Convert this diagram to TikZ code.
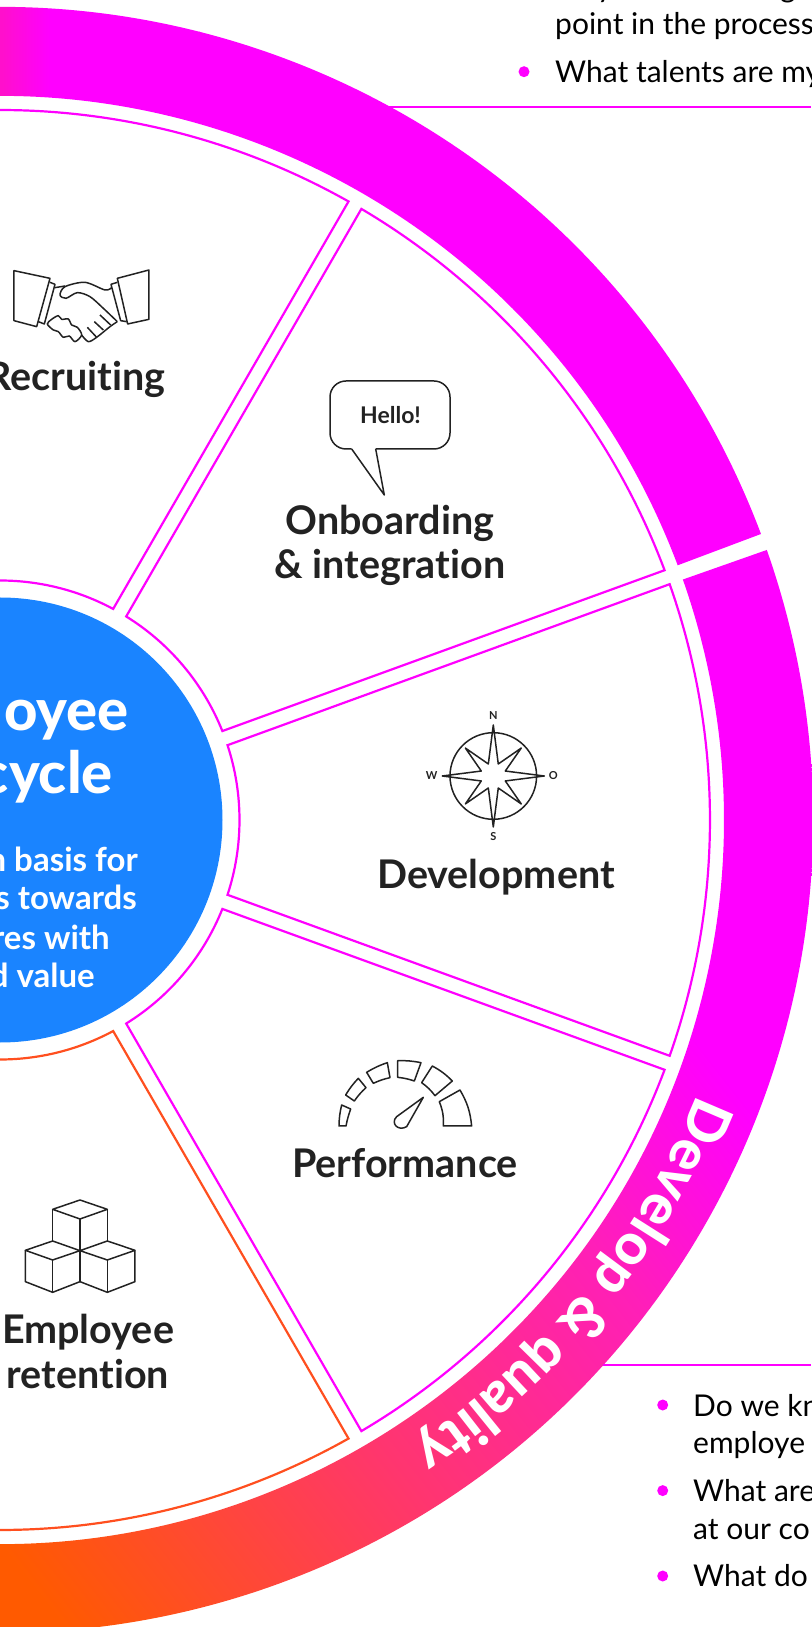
\documentclass[tikz,border=0pt]{standalone}
\usepackage{fontspec}
\setmainfont{Lato}[Ligatures=NoCommon]
\newfontfamily\labelfont{Lato}[UprightFont=* Bold,Ligatures=NoCommon]
\newfontfamily\heavyfont{Lato}[UprightFont=* Heavy,Ligatures=NoCommon]
\usetikzlibrary{decorations.text}
\definecolor{ringpink}{HTML}{FF00FF}
\definecolor{ringorange}{HTML}{FF5A00}
\definecolor{ringrose}{HTML}{FF3570}
\definecolor{ringmid}{HTML}{FF1FB8}
\definecolor{topend}{HTML}{FF10CC}
\definecolor{hubblue}{HTML}{1A84FF}
\definecolor{inkgrey}{HTML}{222222}
\definecolor{retainline}{HTML}{FF4F1F}
\pgfdeclarehorizontalshading{ringfade}{100bp}{color(0bp)=(ringorange); color(26bp)=(ringorange); color(40bp)=(ringrose); color(51bp)=(ringmid); color(59bp)=(ringpink); color(100bp)=(ringpink)}
\pgfdeclarehorizontalshading{topfade}{100bp}{color(0bp)=(topend); color(42bp)=(topend); color(50bp)=(ringpink); color(100bp)=(ringpink)}
\tikzset{
  wedgeline/.style={draw=ringpink, line width=2.2pt, line join=miter},
  iconline/.style={draw=inkgrey, line width=1.5pt, line join=round},
  caption/.style={font=\labelfont\fontsize{39.5}{44}\selectfont, text=inkgrey, anchor=base},
  bodytext/.style={font=\fontsize{30}{34}\selectfont, text=black, anchor=base west, inner sep=0pt},
  hubtitle/.style={font=\heavyfont\fontsize{58}{60}\selectfont, text=white, anchor=base east, inner sep=0pt},
  hubtext/.style={font=\labelfont\fontsize{33}{36}\selectfont, text=white, anchor=base east, inner sep=0pt},
  dotmark/.style={fill=ringpink, circle, inner sep=0pt, minimum size=11pt},
  compassletter/.style={font=\labelfont\fontsize{11}{11}\selectfont, text=inkgrey, inner sep=0pt},
}
\begin{document}
\begin{tikzpicture}[x=1pt,y=1pt]
  \useasboundingbox (0,820) rectangle (811,-807);
  % outer ring
  \begin{scope}
    \clip (20.6:813) arc(20.6:105:813) -- (105:724) arc(105:20.6:724) -- cycle;
    \shade[shading=topfade] (-100,0) rectangle (200,830);
    \fill[ringpink] (199,0) rectangle (820,830);
  \end{scope}
  \begin{scope}
    \clip (19.4:813) arc(19.4:-100:813) -- (-100:724) arc(-100:19.4:724) -- cycle;
    \shade[shading=ringfade, shading angle=38] (-150,-1000) rectangle (1150,300);
  \end{scope}
  % hub
  \fill[hubblue] (0,0) circle [radius=222.5];
  \node[hubtitle] (hubone) at (129,89) {oyee};
  \node[hubtitle] (hubtwo) at (113,26) {cycle};
  \node[hubtext] (hubthree) at (138,-52) {n basis for};
  \node[hubtext] (hubfour) at (137,-90) {s towards};
  \node[hubtext] (hubfive) at (110,-129) {res with};
  \node[hubtext] (hubsix) at (95,-167) {d value};
  % segments
  \draw[wedgeline] (60.6:710) arc(60.6:110:710) -- (110:239.5) arc(110:61.8:239.5) -- cycle;
  \draw[wedgeline] (59.4:710) arc(59.4:20.6:710) -- (21.8:239.5) arc(21.8:58.2:239.5) -- cycle;
  \draw[wedgeline] (19.4:710) arc(19.4:-19.4:710) -- (-18.2:239.5) arc(-18.2:18.2:239.5) -- cycle;
  \draw[wedgeline] (-20.6:710) arc(-20.6:-59.4:710) -- (-58.2:239.5) arc(-58.2:-21.8:239.5) -- cycle;
  \draw[wedgeline, draw=retainline] (-60.6:710) arc(-60.6:-110:710) -- (-110:239.5) arc(-110:-61.8:239.5) -- cycle;
  % ring text
  \path[decorate, decoration={text along path, text align=left,
    text={|\heavyfont\fontsize{57}{57}\selectfont\color{white}|Develop {\&} quality}}]
    (-21.5:749) arc(-21.5:-70:749);
  % captions
  \node[caption, anchor=base east] (recruit) at (169,429) {Recruiting};
  \node[caption] (onboard) at (390,285) {Onboarding};
  \node[caption] (integrate) at (390,241) {\& integration};
  \node[caption] (develop) at (496,-69) {Development};
  \node[caption] (perform) at (405,-357) {Performance};
  \node[caption] (retain) at (88,-523) {Employee};
  \node[caption] (retaintwo) at (88,-568) {retention};
  % handshake
  \begin{scope}[shift={(0,570)}, x=0.3333pt, y=-0.3333pt]
    \draw[iconline] (42,62) -- (150,85) -- (110,230) -- (42,212) -- cycle;
    \draw[iconline] (150,97) -- (165,103) -- (133,222) -- (115,215);
    \draw[iconline] (447,60) -- (352,85) -- (383,222) -- (447,208) -- cycle;
    \draw[iconline] (352,97) -- (333,103) -- (362,212) -- (380,215);
    \draw[iconline] plot[smooth] coordinates {(335,113) (315,120) (255,97) (195,110) (180,135) (198,145) (232,128) (270,140) (310,175) (352,215)};
    \draw[iconline] (165,113) -- (195,108);
    \draw[iconline] plot[smooth] coordinates {(352,215) (330,230) (290,262) (265,275) (245,255)};
    \draw[iconline] plot[smooth cycle] coordinates {(142,222) (155,208) (175,197) (185,208) (205,207) (215,225) (232,232) (245,255) (225,275) (208,258) (190,262) (175,245) (160,240)};
    \draw[iconline] (283,215) -- (310,240);
    \draw[iconline] (262,232) -- (290,262);
    \draw[iconline] (300,195) -- (332,225);
  \end{scope}
  % speech bubble
  \draw[iconline, rounded corners=16pt] (375.7,371) -- (450,371) -- (450,439) -- (330,439) -- (330,371) -- (351.7,371);
  \draw[iconline] (351.7,371) -- (384.3,325) -- (375.7,371);
  \node[font=\labelfont\fontsize{23}{23}\selectfont, text=inkgrey, anchor=base] (hello) at (390.5,396) {Hello!};
  % compass
  \begin{scope}[shift={(493.3,44)}]
    \draw[iconline] (0,0) circle [radius=43.3];
    \draw[iconline] (90:51) -- (112.5:13) -- (135:39.5) -- (157.5:13) -- (180:51) -- (202.5:13) -- (225:39.5) -- (247.5:13) -- (270:51) -- (292.5:13) -- (315:39.5) -- (337.5:13) -- (0:51) -- (22.5:13) -- (45:39.5) -- (67.5:13) -- cycle;
    \node[compassletter] (north) at (0,60.3) {N};
    \node[compassletter] (south) at (0,-60.7) {S};
    \node[compassletter] (west) at (-61.6,0) {W};
    \node[compassletter] (east) at (60,0) {O};
  \end{scope}
  % gauge
  \begin{scope}[shift={(320,-220)}, x=0.3333pt, y=-0.3333pt]
    \draw[iconline] (370,258) -- (455,258) to[bend right=12] (420,150) -- (358,185) to[bend left=12] (370,258) -- cycle;
    \draw[iconline] (305,128) -- (337,78) to[bend left=8] (397,123) -- (345,167) to[bend right=8] (305,128) -- cycle;
    \draw[iconline] (233,62) to[bend left=6] (303,68) -- (283,123) to[bend right=6] (233,112) -- cycle;
    \draw[iconline] (140,97) to[bend left=6] (202,68) -- (210,113) to[bend right=6] (160,130) -- cycle;
    \draw[iconline] (77,165) to[bend left=6] (115,115) -- (138,143) to[bend right=6] (103,183) -- cycle;
    \draw[iconline] (57,258) to[bend left=6] (65,195) -- (92,207) to[bend right=4] (78,258) -- cycle;
    \draw[iconline] (310,172) -- (230,230) .. controls (210,250) and (235,275) .. (260,260) -- cycle;
  \end{scope}
  % cubes
  \begin{scope}[shift={(0,-360)}, x=0.3333pt, y=-0.3333pt]
    \draw[iconline] (240,60) -- (322,88) -- (240,117) -- (158,88) -- cycle;
    \draw[iconline] (158,88) -- (158,183);
    \draw[iconline] (322,88) -- (322,183);
    \draw[iconline] (240,117) -- (240,305);
    \draw[iconline] (158,183) -- (240,212) -- (158,240) -- (76,211) -- cycle;
    \draw[iconline] (322,183) -- (405,211) -- (322,240) -- (240,212) -- cycle;
    \draw[iconline] (76,211) -- (76,305) -- (158,337) -- (240,305) -- (322,337) -- (405,305) -- (405,211);
    \draw[iconline] (158,240) -- (158,337);
    \draw[iconline] (322,240) -- (322,337);
  \end{scope}
  % right lines and lists
  \coordinate (topfoot) at (388,712.7);
  \coordinate (topstop) at (811,712.7);
  \coordinate (lowfoot) at (603,-545);
  \coordinate (lowstop) at (811,-545);
  \draw[ringpink, line width=2.2pt] (topfoot) -- (topstop);
  \draw[ringpink, line width=2.2pt] (lowfoot) -- (lowstop);
  \node[bodytext] (toptail) at (597,822.6) {y};
  \node[bodytext] (toptailg) at (780,822.6) {g};
  \node[bodytext] (toptext) at (555,785) {point in the process};
  \node[bodytext] (toptwo) at (555,737.3) {What talents are my};
  \node[dotmark] (topdot) at (524,748.3) {};
  \node[bodytext] (lowone) at (693,-596) {Do we kn};
  \node[bodytext] (lowtwo) at (693,-633) {employe};
  \node[bodytext] (lowthree) at (693,-681) {What are};
  \node[bodytext] (lowfour) at (693,-719) {at our co};
  \node[bodytext] (lowfive) at (693,-766.6) {What do};
  \node[dotmark] (lowdotone) at (662.7,-585) {};
  \node[dotmark] (lowdottwo) at (662.7,-670.6) {};
  \node[dotmark] (lowdotthree) at (662.7,-756) {};
\end{tikzpicture}
\end{document}
